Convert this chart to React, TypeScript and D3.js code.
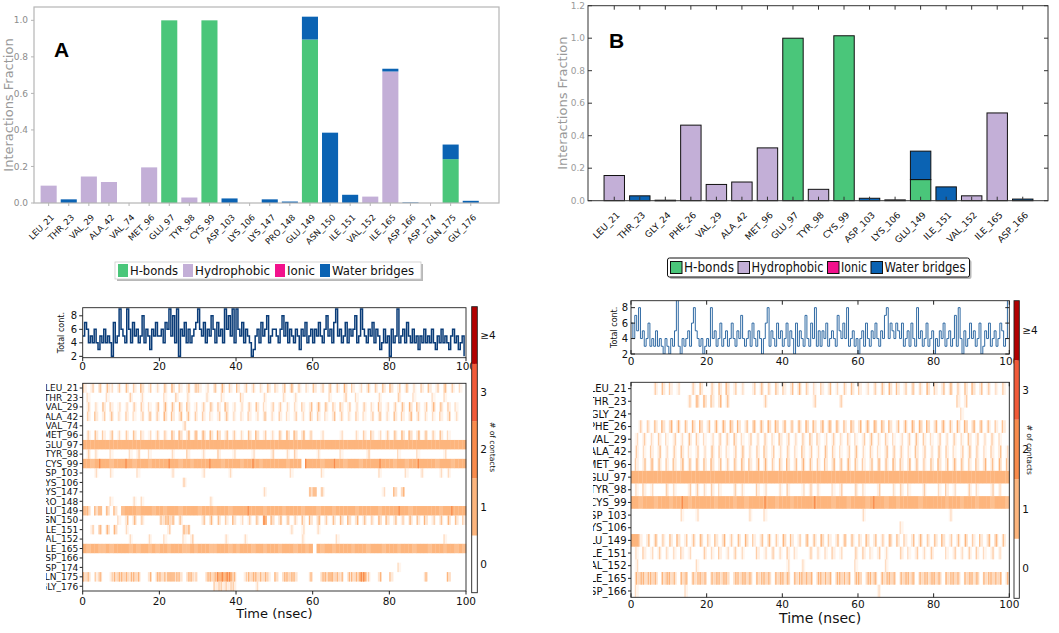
import React from 'react';
import * as d3 from 'd3';

const W = 1059;
const H = 633;
const FONT = 'DejaVu Sans, Verdana, sans-serif';

// ---------- interaction fraction bars ----------
const kindNames = ['H-bonds', 'Hydrophobic', 'Ionic', 'Water bridges'];
const kindColors = ['#4ac67a', '#c3afd7', '#f2118c', '#0b63b3'];

const residuesA = ['LEU_21', 'THR_23', 'VAL_29', 'ALA_42', 'VAL_74', 'MET_96', 'GLU_97', 'TYR_98', 'CYS_99', 'ASP_103', 'LYS_106',
  'LYS_147', 'PRO_148', 'GLU_149', 'ASN_150', 'ILE_151', 'VAL_152', 'ILE_165', 'ASP_166', 'ASP_174', 'GLN_175', 'GLY_176'];
const hbondA = [0, 0, 0, 0, 0, 0, 1.0, 0, 1.0, 0, 0, 0, 0, 0.895, 0, 0, 0, 0, 0, 0, 0.24, 0];
const hydroA = [0.095, 0, 0.145, 0.115, 0, 0.195, 0, 0.03, 0, 0, 0, 0, 0, 0, 0, 0, 0.035, 0.72, 0, 0, 0, 0];
const ionicA = [0, 0, 0, 0, 0, 0, 0, 0, 0, 0, 0, 0, 0, 0, 0, 0, 0, 0, 0, 0, 0, 0];
const waterA = [0, 0.02, 0, 0, 0, 0, 0, 0, 0, 0.025, 0, 0.02, 0.008, 0.125, 0.385, 0.045, 0, 0.015, 0.003, 0, 0.08, 0.012];

const residuesB = ['LEU_21', 'THR_23', 'GLY_24', 'PHE_26', 'VAL_29', 'ALA_42', 'MET_96', 'GLU_97', 'TYR_98', 'CYS_99', 'ASP_103',
  'LYS_106', 'GLU_149', 'ILE_151', 'VAL_152', 'ILE_165', 'ASP_166'];
const hbondB = [0, 0, 0, 0, 0, 0, 0, 1.0, 0, 1.015, 0, 0, 0.13, 0, 0, 0, 0];
const hydroB = [0.155, 0, 0.003, 0.465, 0.1, 0.115, 0.325, 0, 0.07, 0, 0, 0.005, 0, 0, 0.03, 0.54, 0];
const ionicB = [0, 0, 0, 0, 0, 0, 0, 0, 0, 0, 0, 0, 0, 0, 0, 0, 0];
const waterB = [0, 0.03, 0, 0, 0, 0, 0, 0, 0, 0, 0.015, 0, 0.175, 0.085, 0, 0, 0.01];

const fracTicksA = [0, 0.2, 0.4, 0.6, 0.8, 1.0];
const fracTicksB = [0, 0.2, 0.4, 0.6, 0.8, 1.0, 1.2];

// ---------- total contacts (0.5 ns steps) ----------
const totalA = (
  '57645464354645427459' + '65496475645846536575' + '56476958492657464567' + '96574658647564968594' +
  '96574654235647568456' + '65468574654653657456' + '46575468564795645746' + '56845965465746534645' +
  '26459456475464535464' + '54643546454356453452'
).split('').map(Number);
const totalB = (
  '64758453463435343243' + '24359324345368543423' + '43845346345346435474' + '34536435424683543645' +
  '34635426354374364835' + '35463454375464834534' + '24536435464354784654' + '65463453643845346345' +
  '24354634534738425346' + '45346235463453465349'
).split('').map(Number);
const timeTicks = [0, 20, 40, 60, 80, 100];
const contTicks = [2, 4, 6, 8];

// ---------- contact timeline rows, 1 ns per char: 0 none, 1-9 share of frames, x = 2 contacts ----------
const rowsA = [
  '3030404203 0403050302 0405030404 3020405030 4030302040 3040503020 4030403050 3020403040 5030402030 4030503020',
  '0200002000 0030020000 0200300200 0020002000 0300000200 0020020000 0000200030 0200000200 0030002000 0200200000',
  '0302040302 0203030204 0504050402 0304030502 0203040203 0302020304 0504030403 0203020402 0304050403 0504030200',
  '0304030402 0302030403 0504050403 0302030402 0203020402 0302030204 0302040302 0302030402 0403050302 0203040200',
  '0000000000 0000000000 0000003000 0000000000 0000000000 0000000000 0000000000 0000000000 0000000000 0000000000',
  '0304030402 0304030203 0305060506 0605060403 0204050302 0405060503 0020000200 0203040203 0405060504 0304020000',
  '9999999999 9999999999 9999999999 9999999999 9999999999 9999999999 9999999999 9999999999 9999999999 9999999999',
  '0302000200 0020300200 0002000300 0200030002 0000200003 0002030000 0200000200 0000300000 0020000200 0000200000',
  '9989x99899 9x98999899 99x9989989 999x998999 9899x98999 99989990x9 99899x9989 9989999x99 9899899x99 9989998999',
  '0002000200 0000200000 0002000000 0200000020 0000000000 0000200000 0020000000 0000000200 0000200020 0002020000',
  '0000000000 0000000000 0000003000 0000000000 0000000000 0000000000 0000000000 0000000000 0000000000 0000000000',
  '0000000000 0000000000 0000000000 0000000000 0000000200 0000000006 8040000000 0000000020 0607000000 0000000000',
  '0000000200 0002020000 0000000000 0002000000 0000000000 0000000000 0000000000 0000000000 0000000000 0000000000',
  '8606806050 8999899989 9899989999 8999899989 999x999899 9989999899 9899989999 9899999899 99x9989999 999899x999',
  '0000000002 0405030000 4565040000 0405040305 0203040x06 0504030405 0603040506 0504030605 0403050405 0304050403',
  '0030606060 0200000000 0030006600 0000000000 0000000000 0000200200 0200000000 0000000000 0000000000 0000000000',
  '0000000000 0020000200 0200002030 0000000200 0020000000 0000000200 0000002000 0000000000 0000000000 0000200000',
  '9899889899 9989899898 9989998898 9998899989 8999899899 9899989989 0989989999 8999899989 9989998999 8999899898',
  '0000000000 0000000000 0000000000 0000000000 0000000000 0000000000 0000000000 0000000000 0000000000 0000000000',
  '0000000000 0000000000 0000000000 0000000000 0000000000 0000000000 0000000000 0000000000 0020000000 0000000000',
  '6503600367 7657600506 6588650663 00677xxxx6 0036765630 6067750005 0067876505 66xx300500 4000000005 0000060000',
  '0000000000 0000000000 0000000000 0000333333 0000020000 0000000000 0000000000 0000000000 0000000000 0000000000',
];
const rowsB = [
  '0000003040 3020003040 0304050302 0030403040 3040503020 3040203040 3020304050 4030403050 3040503040 5040302030',
  '0000000000 0000030605 0405040000 0000030000 0000000030 0000030000 0000000000 0000000000 0000003030 0000000000',
  '0000000000 0000000000 0000000000 0000000000 0000000000 0000000000 0000000000 0000000000 0000000200 0000000000',
  '0030304050 6050405060 4050607050 4060506070 5040506050 6070504060 5060706050 4050607060 5060405070 6050403040',
  '0203020302 0302040302 0203030402 0302030204 0302030403 0203020302 0304020302 0203040302 0302030204 0302030200',
  '0302030402 0304020302 0403020304 0203040302 0302040302 0403020304 0203020403 0302040302 0403020304 0302030402',
  '0304050403 0405040504 0504030405 0405050304 0504050403 0405040504 0304050405 0405040304 0504050403 0405040504',
  '9999999999 9999999999 9999999999 9999999999 9999999999 9999999999 9999999999 9999999999 9999999999 9999999999',
  '0203020003 0200030302 0302000302 0003020002 0300020302 0002030003 0200030002 0302000300 0203020003 0200030200',
  '9989998999 899x989999 9989999899 89999x9989 99899999x9 9998999899 9989x99899 8999998999 9998999899 9899989998',
  '0000000000 0002000200 0000000000 0200020000 0000000000 0000000000 0200000000 0000000000 0000200000 0000000000',
  '0000000000 0000000000 0000000000 0000000000 0000000000 0000000000 0000000000 0200000000 0000000000 0000000000',
  '9930405030 4050304050 3040503040 5030405030 6040305040 6030405040 3050403060 4030405030 4050304050 3040506040',
  '0203020302 0203020003 0203020302 0003020302 0302000302 0203020003 0302030200 0302030203 0002030203 0302030200',
  '0200000000 0000000200 0000000000 0000000000 0200020000 0000000002 0000000200 0000000000 0000000000 0000000000',
  '0676576067 6506706576 0675760657 6706576067 5706576706 6570675706 7065706576 0675706657 6706576067 5706576705',
  '0200000000 0000200000 0000000000 0000000000 0000000000 0000000000 0000020000 0000000000 0000000000 0000000000',
];
const rowLabelsA = residuesA;
const rowLabelsB = residuesB;

const countLabels = ['0', '1', '2', '3', '\u22654'];
const countColors = ['#ffffff', '#fdb57d', '#f98b4c', '#f15a39', '#b30000'];

// ---------- bar panel ----------
type BarCfg = {
  letter: string;
  residues: string[];
  values: number[][];
  frame: { x0: number; x1: number; y0: number; y1: number };
  band: [number, number];
  yMax: number;
  yTicks: number[];
  classic: boolean;
  letterPos: [number, number];
  yLabelX: number;
  legend: { x: number; y: number; w: number; h: number; font: number; sw: number; swH: number; widths: number[]; pad: number };
};

function BarPanel({ cfg }: { cfg: BarCfg }) {
  const { frame: f } = cfg;
  const x = d3.scaleBand<string>().domain(cfg.residues).range(cfg.band).paddingInner(0.2).paddingOuter(0.1);
  const y = d3.scaleLinear().domain([0, cfg.yMax]).range([f.y1, f.y0]);
  const table = cfg.residues.map((r, i) => {
    const row: any = { res: r };
    kindNames.forEach((k, j) => (row[k] = cfg.values[j][i]));
    return row;
  });
  const stacked = d3.stack<any>().keys(kindNames)(table);
  const frameColor = cfg.classic ? '#333' : '#b5b5b5';
  const tickColor = cfg.classic ? '#9a9a9a' : '#8c8c8c';
  const lg = cfg.legend;
  let cx = lg.x + 3;
  const items = kindNames.map((k, i) => {
    const sx = cx;
    const tx = sx + lg.sw + 2;
    cx = tx + lg.widths[i] + lg.pad;
    return { k, sx, tx, w: lg.widths[i], c: kindColors[i] };
  });
  return (
    <g fontFamily={FONT}>
      {stacked.map((s, j) =>
        s.map((d, i) => {
          const h = y(d[0]) - y(d[1]);
          if (h <= 0.01) return null;
          return (
            <rect key={`${j}-${i}`} x={x(cfg.residues[i])} y={y(d[1])} width={x.bandwidth()} height={Math.max(h, 0.6)}
              fill={kindColors[j]} stroke={cfg.classic ? '#111' : 'none'} strokeWidth={cfg.classic ? 1 : 0} />
          );
        })
      )}
      <rect x={f.x0} y={f.y0} width={f.x1 - f.x0} height={f.y1 - f.y0} fill="none" stroke={frameColor} strokeWidth={cfg.classic ? 1 : 1.2} />
      {cfg.yTicks.map((t) => (
        <g key={t}>
          <line x1={f.x0} x2={cfg.classic ? f.x0 + 4 : f.x0 - 3} y1={y(t)} y2={y(t)} stroke={frameColor} />
          {cfg.classic && <line x1={f.x1} x2={f.x1 - 4} y1={y(t)} y2={y(t)} stroke={frameColor} />}
          <text x={f.x0 - (cfg.classic ? 3 : 6)} y={y(t)} dy="0.35em" textAnchor="end" fontSize={9} fill={tickColor}>{t.toFixed(1)}</text>
        </g>
      ))}
      {cfg.residues.map((r) => {
        const c = (x(r) as number) + x.bandwidth() / 2;
        return (
          <g key={r}>
            <line x1={c} x2={c} y1={f.y1} y2={cfg.classic ? f.y1 - 4 : f.y1 + 3} stroke={frameColor} />
            {cfg.classic && <line x1={c} x2={c} y1={f.y0} y2={f.y0 + 4} stroke={frameColor} />}
            <text transform={`translate(${c + 6},${f.y1 + 15}) rotate(-45)`} textAnchor="end" fontSize={cfg.classic ? 9 : 8.5} fill="#111">{r}</text>
          </g>
        );
      })}
      <text transform={`translate(${cfg.yLabelX},${(f.y0 + f.y1) / 2}) rotate(-90)`} textAnchor="middle" fontSize={13} fill="#999">Interactions Fraction</text>
      <text x={cfg.letterPos[0]} y={cfg.letterPos[1]} fontSize={21} fontWeight="bold" fontFamily="Liberation Sans, Arial, sans-serif" fill="#000">{cfg.letter}</text>
      <rect x={lg.x + 2} y={lg.y + 2} width={lg.w} height={lg.h} fill="#888" opacity={0.6} rx={cfg.classic ? 2 : 0} />
      <rect x={lg.x} y={lg.y} width={lg.w} height={lg.h} fill="#fff" stroke={cfg.classic ? '#111' : '#ccc'} strokeWidth={cfg.classic ? 1 : 0.8} rx={cfg.classic ? 2 : 0} />
      {items.map((it) => (
        <g key={it.k}>
          <rect x={it.sx} y={lg.y + (lg.h - lg.swH) / 2} width={lg.sw} height={lg.swH} fill={it.c} stroke={cfg.classic ? '#111' : 'none'} />
          <text x={it.tx} y={lg.y + lg.h / 2} dy="0.36em" fontSize={lg.font} textLength={it.w} lengthAdjust="spacingAndGlyphs" fill="#111">{it.k}</text>
        </g>
      ))}
    </g>
  );
}

// ---------- timeline panel ----------
type Box = { x0: number; x1: number; y0: number; y1: number };
type TimeCfg = {
  id: string;
  series: number[];
  rows: string[];
  labels: string[];
  ts: Box;
  heat: Box;
  cb: Box;
  yDomain: [number, number];
  classic: boolean;
  lineColor: string;
  lineWidth: number;
  clipX: number;
  rowFont: number;
  totalLabelX: number;
  tsTickY: number;
  heatTickY: number;
  timeLabelY: number;
  timeFont: number;
  contactsX: number;
};

function TimePanel({ cfg }: { cfg: TimeCfg }) {
  const { ts, heat, cb } = cfg;
  const xt = d3.scaleLinear().domain([0, 100]).range([ts.x0, ts.x1]);
  const yt = d3.scaleLinear().domain(cfg.yDomain).range([ts.y1, ts.y0]);
  const xh = d3.scaleLinear().domain([0, 100]).range([heat.x0, heat.x1]);
  const yh = d3.scaleBand<string>().domain(cfg.labels).range([heat.y0, heat.y1]);
  const step = 100 / cfg.series.length;
  const line = d3.line<number>().x((_, i) => xt(i * step)).y((d) => yt(d)).curve(d3.curveStepAfter);
  const yc = d3.scaleBand<string>().domain(countLabels.slice().reverse()).range([cb.y0, cb.y1]);
  const tickLen = cfg.classic ? -4 : 3.5;
  const cells: any[] = [];
  cfg.rows.forEach((raw, r) => {
    const s = raw.replace(/ /g, '');
    const bw = 100 / s.length;
    const ry = yh(cfg.labels[r]) as number;
    const rh = yh.bandwidth();
    for (let i = 0; i < s.length; i++) {
      const ch = s[i];
      if (ch === '0') continue;
      const xa = xh(i * bw);
      const xb = xh((i + 1) * bw);
      const v = ch === 'x' ? 9 : Number(ch);
      // stripe position inside the bin only varies the texture
      const off = ((i * 7 + r * 3) % 5) / 5;
      if (v >= 8) {
        cells.push(<rect key={`${r}-${i}`} x={xa} y={ry} width={xb - xa + 0.25} height={rh} fill={countColors[1]} opacity={v === 9 ? 1 : 0.85} />);
      } else {
        cells.push(<rect key={`${r}-${i}`} x={xa} y={ry} width={xb - xa + 0.25} height={rh} fill={countColors[1]} opacity={v / 14} />);
        cells.push(<rect key={`${r}-${i}s`} x={xa + off * (xb - xa - 1.2)} y={ry} width={1.2} height={rh} fill={countColors[1]} opacity={Math.min(1, v / 5)} />);
      }
      if (ch === 'x') {
        cells.push(<rect key={`${r}-${i}d`} x={xa + off * (xb - xa - 1.3)} y={ry} width={1.3} height={rh} fill={countColors[2]} />);
      }
    }
  });
  return (
    <g fontFamily={FONT} fill="#111">
      <defs>
        <clipPath id={`lab-${cfg.id}`}>
          <rect x={cfg.clipX} y={heat.y0 - 10} width={heat.x0 - cfg.clipX} height={heat.y1 - heat.y0 + 20} />
        </clipPath>
        <clipPath id={`ts-${cfg.id}`}>
          <rect x={ts.x0} y={ts.y0} width={ts.x1 - ts.x0} height={ts.y1 - ts.y0} />
        </clipPath>
      </defs>
      {/* total contacts */}
      <path d={line(cfg.series) as string} fill="none" stroke={cfg.lineColor} strokeWidth={cfg.lineWidth} clipPath={`url(#ts-${cfg.id})`} />
      <rect x={ts.x0} y={ts.y0} width={ts.x1 - ts.x0} height={ts.y1 - ts.y0} fill="none" stroke="#222" strokeWidth={0.9} />
      {contTicks.map((t) => (
        <g key={t}>
          <line x1={ts.x0} x2={ts.x0 - tickLen} y1={yt(t)} y2={yt(t)} stroke="#222" />
          {cfg.classic && <line x1={ts.x1} x2={ts.x1 + tickLen} y1={yt(t)} y2={yt(t)} stroke="#222" />}
          <text x={ts.x0 - (cfg.classic ? 3 : 5.5)} y={yt(t)} dy="0.36em" textAnchor="end" fontSize={10}>{t}</text>
        </g>
      ))}
      {timeTicks.map((t) => (
        <g key={t}>
          <line x1={xt(t)} x2={xt(t)} y1={ts.y1} y2={ts.y1 + tickLen} stroke="#222" />
          {cfg.classic && <line x1={xt(t)} x2={xt(t)} y1={ts.y0} y2={ts.y0 - tickLen} stroke="#222" />}
          <text x={xt(t)} y={cfg.tsTickY} textAnchor="middle" fontSize={10.5}>{t}</text>
        </g>
      ))}
      <text transform={`translate(${cfg.totalLabelX},${(ts.y0 + ts.y1) / 2}) rotate(-90)`} textAnchor="middle" fontSize={8}>Total cont.</text>
      {/* contact timeline */}
      {cells}
      <rect x={heat.x0} y={heat.y0} width={heat.x1 - heat.x0} height={heat.y1 - heat.y0} fill="none" stroke="#222" strokeWidth={0.9} />
      <g clipPath={`url(#lab-${cfg.id})`}>
        {cfg.labels.map((l) => {
          const c = (yh(l) as number) + yh.bandwidth() / 2;
          return (
            <g key={l}>
              <line x1={heat.x0} x2={heat.x0 - 3} y1={c} y2={c} stroke="#222" />
              <text x={heat.x0 - 4.5} y={c} dy="0.36em" textAnchor="end" fontSize={cfg.rowFont}>{l}</text>
            </g>
          );
        })}
      </g>
      {timeTicks.map((t) => (
        <g key={t}>
          <line x1={xh(t)} x2={xh(t)} y1={heat.y1} y2={heat.y1 + tickLen} stroke="#222" />
          {cfg.classic && <line x1={xh(t)} x2={xh(t)} y1={heat.y0} y2={heat.y0 - tickLen} stroke="#222" />}
          <text x={xh(t)} y={cfg.heatTickY} textAnchor="middle" fontSize={10.5}>{t}</text>
        </g>
      ))}
      <text x={(heat.x0 + heat.x1) / 2} y={cfg.timeLabelY} textAnchor="middle" fontSize={cfg.timeFont}>Time (nsec)</text>
      {/* colour bar */}
      {countLabels.map((l, i) => (
        <g key={l}>
          <rect x={cb.x0} y={yc(l)} width={cb.x1 - cb.x0} height={yc.bandwidth()} fill={countColors[i]} />
          <text x={cb.x1 + 3} y={(yc(l) as number) + yc.bandwidth() / 2} dy="0.36em" fontSize={10.5}>{l}</text>
        </g>
      ))}
      <rect x={cb.x0} y={cb.y0} width={cb.x1 - cb.x0} height={cb.y1 - cb.y0} fill="none" stroke="#222" strokeWidth={0.9} />
      <text transform={`translate(${cfg.contactsX},${(heat.y0 + heat.y1) / 2 - 40}) rotate(90)`} textAnchor="middle" fontSize={7.5}># of contacts</text>
    </g>
  );
}

const barA: BarCfg = {
  letter: 'A', residues: residuesA, values: [hbondA, hydroA, ionicA, waterA],
  frame: { x0: 34, x1: 499, y0: 7, y1: 203 }, band: [38.6, 480.8], yMax: 1.073, yTicks: fracTicksA, classic: false,
  letterPos: [54, 57], yLabelX: 13,
  legend: { x: 115, y: 262, w: 306, h: 17, font: 13, sw: 10, swH: 13, widths: [48, 75, 28, 82], pad: 5 },
};
const barB: BarCfg = {
  letter: 'B', residues: residuesB, values: [hbondB, hydroB, ionicB, waterB],
  frame: { x0: 588, x1: 1048, y0: 5.7, y1: 200.7 }, band: [601.5, 1035.5], yMax: 1.2, yTicks: fracTicksB, classic: true,
  letterPos: [609, 48], yLabelX: 567,
  legend: { x: 667.5, y: 258, w: 302, h: 19, font: 13.5, sw: 11.5, swH: 12, widths: [50, 72, 26, 81], pad: 4 },
};

const timeA: TimeCfg = {
  id: 'a', series: totalA, rows: rowsA, labels: rowLabelsA,
  ts: { x0: 82.7, x1: 466, y0: 307.7, y1: 357.7 }, heat: { x0: 82.7, x1: 466, y0: 383.3, y1: 591 },
  cb: { x0: 471.7, x1: 477.3, y0: 306.7, y1: 592.7 }, yDomain: [1.8, 9.2], classic: false,
  lineColor: '#0a3c78', lineWidth: 1.5, clipX: 46, rowFont: 9, totalLabelX: 64, tsTickY: 370, heatTickY: 605,
  timeLabelY: 618, timeFont: 13, contactsX: 490,
};
const timeB: TimeCfg = {
  id: 'b', series: totalB, rows: rowsB, labels: rowLabelsB,
  ts: { x0: 631, x1: 1009.3, y0: 300.7, y1: 354 }, heat: { x0: 631, x1: 1009.3, y0: 382.3, y1: 597.3 },
  cb: { x0: 1014, x1: 1019.3, y0: 300.7, y1: 598.3 }, yDomain: [2, 8.9], classic: true,
  lineColor: '#1a5a9a', lineWidth: 0.9, clipX: 593, rowFont: 10, totalLabelX: 617, tsTickY: 365, heatTickY: 608,
  timeLabelY: 623, timeFont: 14, contactsX: 1027,
};

export default function App() {
  return (
    <svg width={W} height={H} viewBox={`0 0 ${W} ${H}`} style={{ position: 'absolute', left: 0, top: 0, background: '#fff' }}>
      <rect width={W} height={H} fill="#fff" />
      <BarPanel cfg={barA} />
      <BarPanel cfg={barB} />
      <TimePanel cfg={timeA} />
      <TimePanel cfg={timeB} />
    </svg>
  );
}
